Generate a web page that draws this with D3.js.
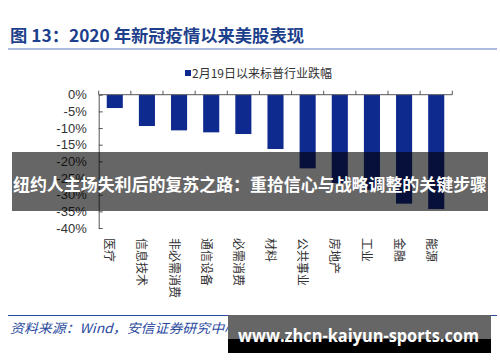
<!DOCTYPE html>
<html>
<head>
<meta charset="utf-8">
<script src="https://cdn.jsdelivr.net/npm/d3@7"></script>
<style>
  body { margin: 0; background: #fff; }
  svg { display: block; font-family: "Noto Sans CJK SC", "Liberation Sans", sans-serif; }
</style>
</head>
<body>
<div id="chart"></div>
<script>
// chart data
var categories = ['医疗', '信息技术', '非必需消费', '通信设备', '必需消费', '材料', '公共事业', '房地产', '工业', '金融', '能源'];
var values = [-4.0, -9.4, -10.7, -11.3, -11.8, -16.3, -22.1, -26.5, -28.5, -32.7, -34.3];
var yTicks = [0, -5, -10, -15, -20, -25, -30, -35, -40];
var seriesName = '2月19日以来标普行业跌幅';

var width = 500, height = 362;
var blue = '#0f2a8f';

var svg = d3.select('#chart').append('svg')
  .attr('width', width)
  .attr('height', height);

// title + rule
svg.append('text')
  .attr('x', 10)
  .attr('y', 42)
  .attr('textLength', 294)
  .attr('lengthAdjust', 'spacingAndGlyphs')
  .style('font-size', '17px')
  .style('font-weight', 'bold')
  .style('fill', '#1e3f8c')
  .text('图 13：2020 年新冠疫情以来美股表现');

svg.append('line')
  .attr('x1', 8).attr('x2', 497)
  .attr('y1', 49).attr('y2', 49)
  .style('stroke', '#8ea3d6')
  .style('stroke-width', 1.5);

// scales
var x = d3.scaleBand()
  .domain(categories)
  .range([98.7, 452.3])
  .paddingInner(0.5)
  .paddingOuter(0.25);

var y = d3.scaleLinear()
  .domain([-40, 0])
  .range([228, 94.7]);

// legend
svg.append('rect')
  .attr('x', 185).attr('y', 70)
  .attr('width', 6).attr('height', 6)
  .style('fill', blue);
svg.append('text')
  .attr('x', 192).attr('y', 77.5)
  .style('font-size', '12px')
  .style('fill', '#333')
  .text(seriesName);

// bars
svg.selectAll('rect.bar')
  .data(values)
  .enter().append('rect')
  .attr('class', 'bar')
  .attr('x', function(d, i) { return x(categories[i]); })
  .attr('y', y(0))
  .attr('width', x.bandwidth())
  .attr('height', function(d) { return y(d) - y(0); })
  .style('fill', blue);

// y axis, ticks pointing inward
var yAxis = svg.append('g')
  .attr('transform', 'translate(' + x.range()[0] + ',0)')
  .call(d3.axisLeft(y).tickValues(yTicks).tickSize(-4).tickSizeOuter(0).tickPadding(12)
    .tickFormat(function(d) { return d + '%'; }));
yAxis.select('.domain').style('stroke', '#555');
yAxis.selectAll('.tick line').style('stroke', '#555');
yAxis.selectAll('text')
  .style('font-family', '"Liberation Sans", Arial, sans-serif')
  .style('font-size', '13px')
  .style('fill', '#333');

// x axis at 0%, tick marks on band edges
var x0 = x.range()[0];
svg.append('line')
  .attr('x1', x0).attr('x2', x.range()[1])
  .attr('y1', y(0)).attr('y2', y(0))
  .style('stroke', '#555');
svg.selectAll('line.xtick')
  .data(d3.range(categories.length + 1))
  .enter().append('line')
  .attr('class', 'xtick')
  .attr('x1', function(i) { return x0 + i * x.step(); })
  .attr('x2', function(i) { return x0 + i * x.step(); })
  .attr('y1', y(0)).attr('y2', y(0) - 4)
  .style('stroke', '#555');

// category labels, rotated
svg.selectAll('text.cat')
  .data(categories)
  .enter().append('text')
  .attr('class', 'cat')
  .attr('transform', function(d) {
    return 'translate(' + (x(d) + x.bandwidth() / 2 - 4) + ',238) rotate(90)';
  })
  .attr('dominant-baseline', 'central')
  .style('font-size', '12px')
  .style('fill', '#333')
  .text(function(d) { return d; });

// source + bottom rule
svg.append('line')
  .attr('x1', 8).attr('x2', 497)
  .attr('y1', 315.5).attr('y2', 315.5)
  .style('stroke', '#2a4aa0')
  .style('stroke-width', 1);
svg.append('text')
  .attr('x', 10).attr('y', 333)
  .attr('textLength', 228)
  .attr('lengthAdjust', 'spacingAndGlyphs')
  .style('font-size', '13px')
  .style('font-style', 'italic')
  .style('fill', '#2a4aa0')
  .text('资料来源：Wind，安信证券研究中心');

// overlay banner
svg.append('rect')
  .attr('x', 12).attr('y', 152)
  .attr('width', 476).attr('height', 59)
  .style('fill', '#000')
  .style('opacity', 0.6);
svg.append('text')
  .attr('x', 13).attr('y', 191)
  .attr('textLength', 474)
  .attr('lengthAdjust', 'spacingAndGlyphs')
  .style('font-size', '17px')
  .style('font-weight', 'bold')
  .style('fill', '#fff')
  .text('纽约人主场失利后的复苏之路：重拾信心与战略调整的关键步骤');

// watermark box
svg.append('rect')
  .attr('x', 228).attr('y', 315)
  .attr('width', 263).attr('height', 24)
  .style('fill', '#666');
svg.append('rect')
  .attr('x', 228).attr('y', 339)
  .attr('width', 263).attr('height', 14)
  .style('fill', '#000');
svg.append('text')
  .attr('x', 238).attr('y', 342)
  .attr('textLength', 241)
  .attr('lengthAdjust', 'spacingAndGlyphs')
  .style('font-family', '"Open Sans", sans-serif')
  .style('font-size', '18px')
  .style('font-weight', 'bold')
  .style('fill', '#fff')
  .text('www.zhcn-kaiyun-sports.com');
</script>
</body>
</html>
